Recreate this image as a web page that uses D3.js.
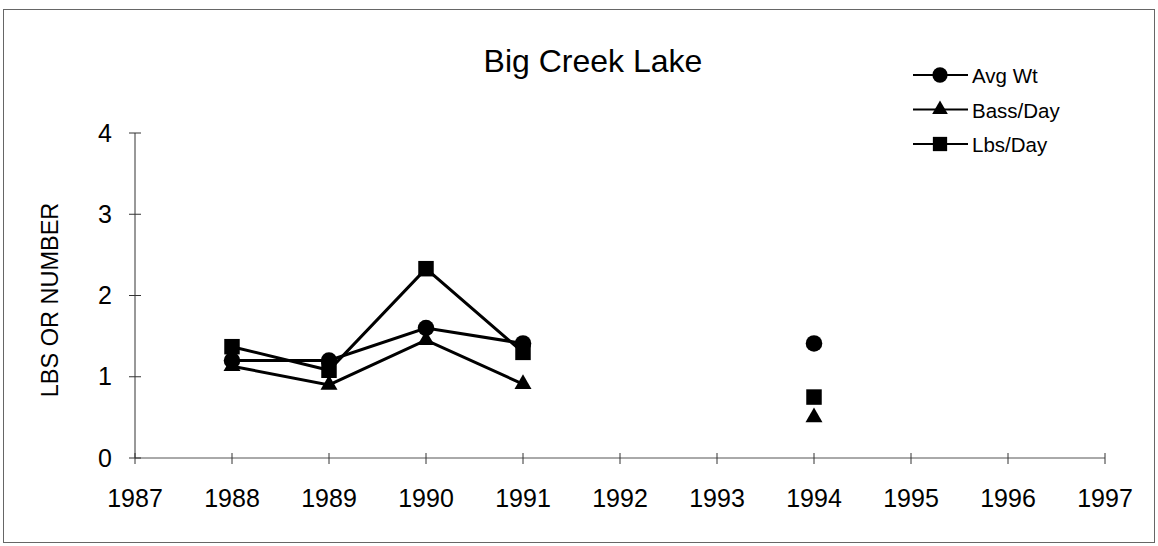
<!DOCTYPE html>
<html><head><meta charset="utf-8">
<script src="https://cdn.jsdelivr.net/npm/d3@7"></script>
<style>body{margin:0;background:#fff}svg{display:block}text{font-family:Arial,"Liberation Sans",sans-serif;fill:#000}</style>
</head><body><svg id="c" width="1158" height="546"></svg>
<script>
const title = "Big Creek Lake";
const yLabel = "LBS OR NUMBER";
const xTicks = [1987,1988,1989,1990,1991,1992,1993,1994,1995,1996,1997];
const yTicks = [0,1,2,3,4];
const seriesNames = ["Avg Wt","Bass/Day","Lbs/Day"];
const segYears = [1988,1989,1990,1991];
const avgWt = [1.2,1.2,1.6,1.41];
const bassDay = [1.13,0.9,1.45,0.91];
const lbsDay = [1.37,1.08,2.33,1.3];
const yr1994 = 1994;
const avgWt1994 = 1.41;
const bassDay1994 = 0.5;
const lbsDay1994 = 0.75;

const svg = d3.select("#c");
svg.append("rect").attr("x",3.5).attr("y",9.5).attr("width",1151).attr("height",533)
  .attr("fill","none").attr("stroke","#666").attr("stroke-width",1);

const x = d3.scaleLinear().domain([1987,1997]).range([135,1105]);
const y = d3.scaleLinear().domain([0,4]).range([458,133]);

const g = svg.append("g");
g.append("line").attr("x1",x(1987)).attr("x2",x(1997)).attr("y1",y(0)).attr("y2",y(0)).attr("stroke","#555").attr("stroke-width",1);
g.append("line").attr("x1",x(1987)).attr("x2",x(1987)).attr("y1",y(0)).attr("y2",y(4)).attr("stroke","#333").attr("stroke-width",1);
xTicks.forEach(t=>{
  g.append("line").attr("x1",x(t)).attr("x2",x(t)).attr("y1",y(0)-5).attr("y2",y(0)+6).attr("stroke","#333");
  g.append("text").attr("x",x(t)).attr("y",507).attr("text-anchor","middle").attr("font-size",25).text(t);
});
yTicks.forEach(t=>{
  g.append("line").attr("x1",x(1987)-6).attr("x2",x(1987)+6).attr("y1",y(t)).attr("y2",y(t)).attr("stroke","#333");
  g.append("text").attr("x",x(1987)-23).attr("y",y(t)+8.5).attr("text-anchor","end").attr("font-size",25).text(t);
});

svg.append("text").attr("x",593).attr("y",72).attr("text-anchor","middle").attr("font-size",32).text(title);
svg.append("text").attr("transform","translate(58,300) rotate(-90)").attr("text-anchor","middle").attr("font-size",23.5).text(yLabel);

const shapes = [d3.symbolCircle, d3.symbolTriangle, d3.symbolSquare];
const sizes = [215,125,240];
const data = [avgWt,bassDay,lbsDay];
const single = [avgWt1994,bassDay1994,lbsDay1994];
const line = d3.line().x(d=>x(d[0])).y(d=>y(d[1]));
data.forEach((vals,i)=>{
  const pts = segYears.map((yr,j)=>[yr,vals[j]]);
  svg.append("path").attr("d",line(pts)).attr("fill","none").attr("stroke","#000").attr("stroke-width",3);
});
data.forEach((vals,i)=>{
  const pts = segYears.map((yr,j)=>[yr,vals[j]]).concat([[yr1994,single[i]]]);
  svg.selectAll(null).data(pts).enter().append("path")
    .attr("d",d3.symbol().type(shapes[i]).size(sizes[i]))
    .attr("transform",d=>`translate(${x(d[0])},${y(d[1])})`).attr("fill","#000");
});

const lg = svg.append("g");
seriesNames.forEach((n,i)=>{
  const ly = 75 + i*34.5;
  lg.append("line").attr("x1",913).attr("x2",968).attr("y1",ly).attr("y2",ly).attr("stroke","#000").attr("stroke-width",2.2);
  lg.append("path").attr("d",d3.symbol().type(shapes[i]).size(sizes[i]*0.85)).attr("transform",`translate(940,${ly})`);
  lg.append("text").attr("x",972).attr("y",ly+8).attr("font-size",20.5).text(n);
});
</script></body></html>
